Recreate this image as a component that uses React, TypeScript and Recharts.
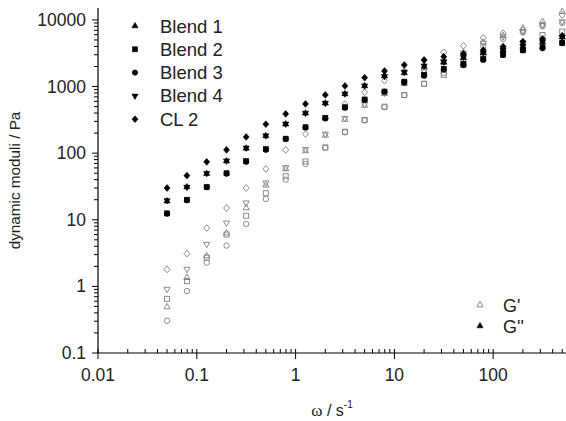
import React from 'react';
import { ScatterChart, Scatter, XAxis, YAxis, Legend } from 'recharts';

// angular frequency, s^-1
const frequencies = [0.05, 0.0794, 0.126, 0.2, 0.316, 0.5, 0.794, 1.26, 2, 3.16, 5, 7.94, 12.6, 20, 31.6, 50, 79.4, 126, 200, 316, 500];

// storage modulus G' (open markers), Pa
const blend1Storage = [0.49, 1.35, 2.85, 6.3, 15, 33, 58, 108, 185, 320, 520, 780, 1100, 1650, 2350, 3200, 4600, 5800, 7500, 9440, 13300];
const blend2Storage = [0.65, 1.2, 2.7, 6.0, 11.5, 25, 45, 75, 122, 210, 315, 499, 748, 1100, 1500, 2100, 3000, 3700, 4500, 5950, 6680];
const blend3Storage = [0.305, 0.85, 2.27, 4.1, 8.65, 20.5, 40, 69, 120, 205, 310, 490, 740, 1100, 1600, 2500, 4000, 5200, 6500, 8000, 9000];
const blend4Storage = [0.91, 1.82, 4.3, 9.0, 18, 36, 61, 114, 194, 334, 542, 800, 1150, 1700, 2400, 3200, 4500, 5620, 6680, 8410, 9440];
const cl2Storage = [1.8, 3.1, 7.5, 15, 30, 58, 112, 194, 330, 548, 820, 1230, 1710, 2500, 3270, 4100, 5370, 6300, 7000, 8400, 11900];

// loss modulus G'' (filled markers), Pa
const blend1Loss = [19, 31, 49, 76, 118, 181, 272, 397, 561, 774, 1020, 1440, 1600, 2000, 2300, 2700, 3200, 3500, 4000, 4700, 5500];
const blend2Loss = [12.5, 20, 31, 50, 76, 115, 165, 245, 340, 489, 640, 840, 1185, 1500, 1850, 2200, 2600, 3000, 3500, 3900, 4500];
const blend3Loss = [12.3, 19.6, 30.8, 49, 74, 112, 163, 242, 334, 480, 630, 839, 1150, 1450, 1800, 2100, 2510, 2980, 3500, 3760, 4500];
const blend4Loss = [19.5, 31, 50, 77, 120, 183, 275, 400, 565, 780, 1030, 1420, 1650, 2050, 2350, 2750, 3200, 3550, 4100, 4730, 5500];
const cl2Loss = [30, 46, 74, 112, 175, 272, 388, 548, 748, 1020, 1360, 1710, 2110, 2500, 2800, 3100, 3550, 3980, 4730, 5200, 5800];

const seriesNames = ['Blend 1', 'Blend 2', 'Blend 3', 'Blend 4', 'CL 2'];
const modulusNames = ["G'", "G''"];
const xMajorTicks = [0.01, 0.1, 1, 10, 100];
const yMajorTicks = [0.1, 1, 10, 100, 1000, 10000];
const xTitle = ['\u03c9', ' / s', '-1'];
const yTitle = 'dynamic moduli / Pa';

type Kind = 'up' | 'down' | 'square' | 'circle' | 'diamond';
const kinds: Kind[] = ['up', 'square', 'circle', 'down', 'diamond'];
const storageSets = [blend1Storage, blend2Storage, blend3Storage, blend4Storage, cl2Storage];
const lossSets = [blend1Loss, blend2Loss, blend3Loss, blend4Loss, cl2Loss];

const FONT = "Arial, 'Liberation Sans', Helvetica, sans-serif";
const OPEN = '#808080';
const W = 566;
const H = 421;

const toRows = (vals: number[]) => frequencies.map((f, i) => ({ x: f, y: vals[i] }));

const minorOf = (majors: number[], max: number) => {
  const out: number[] = [];
  majors.forEach((m) => {
    for (let k = 2; k <= 9; k++) {
      const v = +(m * k).toPrecision(6);
      if (v <= max) out.push(v);
    }
  });
  return out;
};

const X_MAX = 546;
const Y_MAX = 15100;
const xTicks = [...xMajorTicks, ...minorOf(xMajorTicks, X_MAX)].sort((a, b) => a - b);
const yTicks = [...yMajorTicks, ...minorOf(yMajorTicks, Y_MAX)].sort((a, b) => a - b);

const isMajor = (v: number) => {
  const l = Math.log10(v);
  return Math.abs(l - Math.round(l)) < 1e-6;
};

function Marker({ kind, cx, cy, filled }: { kind: Kind; cx: number; cy: number; filled: boolean }) {
  if (cx == null || cy == null || isNaN(cx) || isNaN(cy)) return null;
  const fill = filled ? '#000' : 'none';
  const stroke = filled ? '#000' : OPEN;
  const sw = filled ? 0.6 : 0.9;
  if (kind === 'circle') return <circle cx={cx} cy={cy} r={2.7} fill={fill} stroke={stroke} strokeWidth={sw} />;
  if (kind === 'square') return <rect x={cx - 2.5} y={cy - 2.5} width={5} height={5} fill={fill} stroke={stroke} strokeWidth={sw} />;
  if (kind === 'diamond')
    return <path d={`M${cx},${cy - 3.4}L${cx + 3},${cy}L${cx},${cy + 3.4}L${cx - 3},${cy}Z`} fill={fill} stroke={stroke} strokeWidth={sw} />;
  const s = 6.2;
  const h = 5.4;
  if (kind === 'up')
    return <path d={`M${cx},${cy - (h * 2) / 3}L${cx + s / 2},${cy + h / 3}L${cx - s / 2},${cy + h / 3}Z`} fill={fill} stroke={stroke} strokeWidth={sw} />;
  return <path d={`M${cx},${cy + (h * 2) / 3}L${cx + s / 2},${cy - h / 3}L${cx - s / 2},${cy - h / 3}Z`} fill={fill} stroke={stroke} strokeWidth={sw} />;
}

const XTick = (props: any) => {
  const { x, y, payload } = props;
  const v = payload.value;
  if (isMajor(v)) {
    return (
      <g>
        <line x1={x} x2={x} y1={y - 4} y2={y + 6} stroke="#000" strokeWidth={1} />
        <text x={x} y={y + 28} textAnchor="middle" fontSize={17.5} fontFamily={FONT} fill="#222">
          {String(v)}
        </text>
      </g>
    );
  }
  return <line x1={x} x2={x} y1={y} y2={y - 4} stroke="#000" strokeWidth={1} />;
};

const YTick = (props: any) => {
  const { x, y, payload } = props;
  const v = payload.value;
  if (isMajor(v)) {
    return (
      <g>
        <line x1={x - 6} x2={x} y1={y} y2={y} stroke="#000" strokeWidth={1} />
        <text x={x - 12} y={y + 6} textAnchor="end" fontSize={17.5} fontFamily={FONT} fill="#222">
          {String(v)}
        </text>
      </g>
    );
  }
  return <line x1={x - 4} x2={x} y1={y} y2={y} stroke="#000" strokeWidth={1} />;
};

const XTitle = (props: any) => {
  const vb = props.viewBox || { x: 98, y: 353, width: 468, height: 68 };
  const cx = vb.x + vb.width / 2;
  return (
    <text x={cx} y={vb.y + 63} textAnchor="middle" fill="#222" fontSize={16} fontFamily={FONT}>
      <tspan fontFamily="'Liberation Serif', 'Times New Roman', serif" fontSize={17}>{xTitle[0]}</tspan>
      <tspan>{xTitle[1]}</tspan>
      <tspan fontSize={10} dy={-8}>{xTitle[2]}</tspan>
    </text>
  );
};

const YTitle = (props: any) => {
  const vb = props.viewBox || { x: 0, y: 8, width: 98, height: 345 };
  const cx = 20;
  const cy = vb.y + vb.height / 2;
  return (
    <text x={cx} y={cy} transform={`rotate(-90 ${cx} ${cy})`} textAnchor="middle" fill="#222" fontSize={15.3} fontFamily={FONT}>
      {yTitle}
    </text>
  );
};

const LegendContent = () => (
  <svg width={W} height={H} style={{ position: 'absolute', left: 0, top: 0, overflow: 'visible' }}>
    {seriesNames.map((name, i) => (
      <g key={name}>
        <Marker kind={kinds[i]} cx={135} cy={26 + i * 23.3} filled />
        <text x={160} y={26 + i * 23.3 + 6.5} fontSize={18.5} fontFamily={FONT} fill="#222">
          {name}
        </text>
      </g>
    ))}
    {modulusNames.map((name, i) => (
      <g key={name}>
        <Marker kind="up" cx={480} cy={305 + i * 21} filled={i === 1} />
        <text x={503} y={305 + i * 21 + 6.5} fontSize={18} fontFamily={FONT} fill="#222">
          {name}
        </text>
      </g>
    ))}
  </svg>
);

export default function App() {
  return (
    <div style={{ position: 'absolute', left: 0, top: 0, width: W, height: H, background: '#fff' }}>
      <ScatterChart width={W} height={H} margin={{ top: 8, right: 0, bottom: 0, left: 0 }}>
        <XAxis
          type="number"
          dataKey="x"
          scale="log"
          domain={[0.01, X_MAX]}
          allowDataOverflow
          ticks={xTicks}
          interval={0}
          tickSize={0}
          tickMargin={0}
          tickLine={false}
          tick={<XTick />}
          height={68}
          axisLine={{ stroke: '#000', strokeWidth: 1.2 }}
          label={{ content: XTitle } as any}
        />
        <YAxis
          type="number"
          dataKey="y"
          scale="log"
          domain={[0.1, Y_MAX]}
          allowDataOverflow
          ticks={yTicks}
          interval={0}
          tickSize={0}
          tickMargin={0}
          tickLine={false}
          tick={<YTick />}
          width={98}
          axisLine={{ stroke: '#000', strokeWidth: 1.2 }}
          label={{ content: YTitle } as any}
        />
        <Legend
          layout="vertical"
          align="center"
          verticalAlign="middle"
          wrapperStyle={{ position: 'absolute', left: 0, top: 0, width: W, height: H, pointerEvents: 'none' }}
          content={LegendContent as any}
        />
        {storageSets.map((vals, i) => (
          <Scatter
            key={'s' + i}
            name={seriesNames[i] + " G'"}
            data={toRows(vals)}
            isAnimationActive={false}
            shape={(p: any) => <Marker kind={kinds[i]} cx={p.cx} cy={p.cy} filled={false} />}
          />
        ))}
        {lossSets.map((vals, i) => (
          <Scatter
            key={'l' + i}
            name={seriesNames[i] + " G''"}
            data={toRows(vals)}
            isAnimationActive={false}
            shape={(p: any) => <Marker kind={kinds[i]} cx={p.cx} cy={p.cy} filled />}
          />
        ))}
      </ScatterChart>
    </div>
  );
}
